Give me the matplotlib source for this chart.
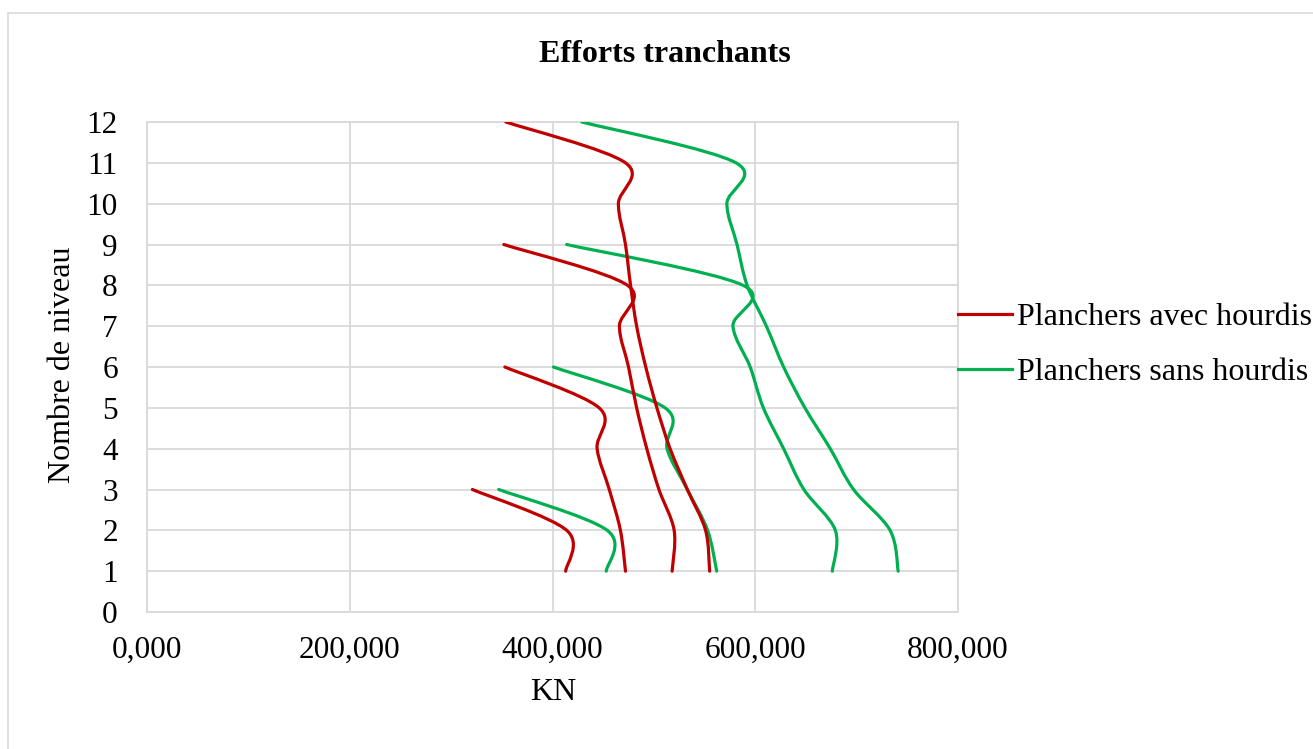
import numpy as np
import matplotlib
matplotlib.use('Agg')
from matplotlib import pyplot as plt
from matplotlib.path import Path
from matplotlib.patches import PathPatch, Rectangle
from matplotlib.lines import Line2D

plt.rcParams['font.family'] = ['Liberation Serif', 'DejaVu Serif']

# shear force (kN) per level, one curve per building height
red_3 = [413, 414, 321]
red_6 = [472, 467, 456, 444, 446, 353]
red_9 = [518, 520, 505, 493, 483, 475, 466, 474, 352]
red_12 = [555, 551, 533, 516, 503, 492, 483, 477, 472, 465, 472, 354]

green_3 = [453, 454, 347]
green_6 = [562, 553, 533, 513, 511, 401]
green_9 = [676, 679, 648, 628, 608, 595, 578, 588, 414]
green_12 = [741, 733, 697, 674, 649, 628, 611, 592, 582, 572, 581, 429]

x_ticks = [0, 200, 400, 600, 800]
y_ticks = list(range(0, 13))
labels = ['Planchers avec hourdis', 'Planchers sans hourdis']
RED = '#C00000'
GREEN = '#00B050'


def smooth_path(xs):
    # Excel-like smoothed line: Catmull-Rom converted to cubic Bezier
    ys = np.arange(1, len(xs) + 1)
    pts = np.column_stack([xs, ys]).astype(float)
    n = len(pts)
    verts = [pts[0]]
    codes = [Path.MOVETO]
    for i in range(n - 1):
        p0 = pts[i - 1] if i > 0 else pts[i]
        p1 = pts[i]
        p2 = pts[i + 1]
        p3 = pts[i + 2] if i + 2 < n else pts[i + 1]
        verts += [p1 + (p2 - p0) / 6, p2 - (p3 - p1) / 6, p2]
        codes += [Path.CURVE4] * 3
    return Path(verts, codes)


fig = plt.figure(figsize=(13.13, 7.49), dpi=100)
ax = fig.add_axes([147 / 1313, 1 - 612 / 749, 811 / 1313, 490 / 749])

for serie in [green_3, green_6, green_9, green_12]:
    ax.add_patch(PathPatch(smooth_path(serie), facecolor='none', edgecolor=GREEN,
                           lw=2.3, capstyle='round', zorder=3))
for serie in [red_3, red_6, red_9, red_12]:
    ax.add_patch(PathPatch(smooth_path(serie), facecolor='none', edgecolor=RED,
                           lw=2.3, capstyle='round', zorder=4))

ax.set_xlim(0, 800)
ax.set_ylim(0, 12)
ax.set_xticks(x_ticks)
ax.set_xticklabels([f'{v:.3f}'.replace('.', ',') for v in x_ticks])
ax.set_yticks(y_ticks)
ax.tick_params(axis='x', length=0, pad=17.5, labelsize=22.5)
ax.tick_params(axis='y', length=0, pad=21, labelsize=22.5)
ax.grid(color='#d9d9d9', lw=1.3)
ax.set_axisbelow(True)
for sp in ax.spines.values():
    sp.set_color('#d9d9d9')
    sp.set_linewidth(1.3)

fig.text(665 / 1313, 1 - 55 / 749, 'Efforts tranchants', ha='center', va='center',
         fontsize=23, fontweight='bold')
fig.text(553 / 1313, 1 - 692 / 749, 'KN', ha='center', va='center', fontsize=23)
fig.text(63 / 1313, 1 - 365 / 749, 'Nombre de niveau', ha='center', va='center',
         rotation=90, fontsize=23)

handles = [Line2D([], [], color=RED, lw=2.3), Line2D([], [], color=GREEN, lw=2.3)]
fig.legend(handles, labels, loc='center left', bbox_to_anchor=(958 / 1313, 1 - 345 / 749),
           frameon=False, fontsize=23, handlelength=1.7, handletextpad=0.15,
           labelspacing=0.8, borderpad=0, borderaxespad=0)

fig.add_artist(Rectangle((8 / 1313, -0.1), 1.2, 1.1 - 13 / 749, transform=fig.transFigure,
                         facecolor='none', edgecolor='#d9d9d9', lw=1.2))

fig.savefig('out.png', dpi=100)
